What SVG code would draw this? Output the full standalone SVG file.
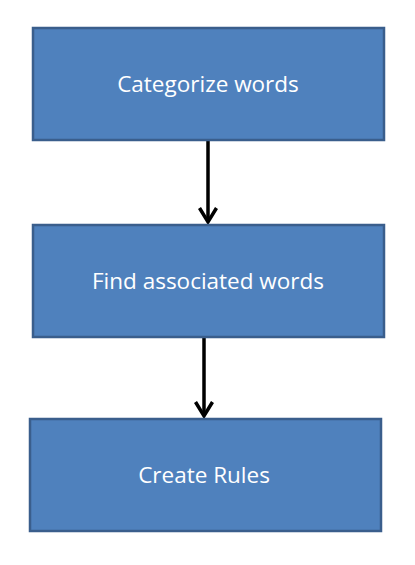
<svg xmlns="http://www.w3.org/2000/svg" width="415" height="565" viewBox="0 0 415 565">
<style>
.box{fill:#4F81BD;stroke:#3A5E8C;stroke-width:2.5}
.lbl{font-family:"Open Sans","Liberation Sans",Arial,sans-serif;font-size:22.5px;fill:#FFFFFF;text-anchor:middle;dominant-baseline:central}
.conn{stroke:#000;stroke-width:3.5;fill:none}
.head{stroke:#000;stroke-width:3.5;fill:none;stroke-linejoin:miter}
</style>
<g id="connectors">
<line class="conn" x1="208" y1="140" x2="208" y2="222"/>
<path class="head" d="M199.5,208 L208,222 L216.5,208"/>
<line class="conn" x1="204" y1="337" x2="204" y2="416"/>
<path class="head" d="M195.5,402 L204,416 L212.5,402"/>
</g>
<g id="node1">
<rect class="box" x="33" y="28" width="351" height="112"/>
<text class="lbl" x="208" y="83">Categorize words</text>
</g>
<g id="node2">
<rect class="box" x="33" y="225" width="351" height="112"/>
<text class="lbl" x="208" y="280">Find associated words</text>
</g>
<g id="node3">
<rect class="box" x="30" y="419" width="351" height="112"/>
<text class="lbl" x="204" y="474">Create Rules</text>
</g>
</svg>
